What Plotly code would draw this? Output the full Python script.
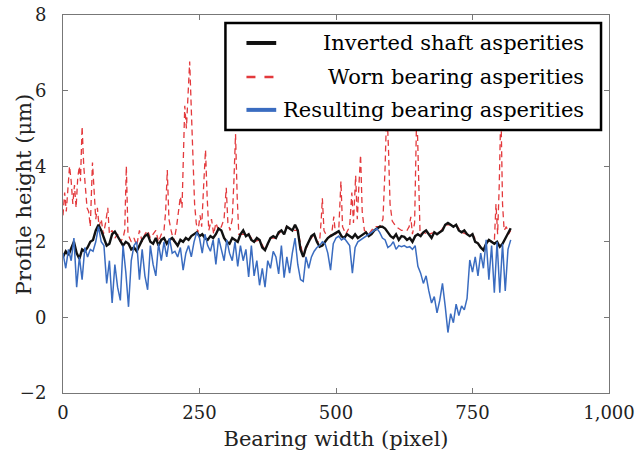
import plotly.graph_objects as go

# ---------------- data ----------------
pixel_step = 5
black_y = [1.6, 1.75, 1.65, 1.85, 2.0, 1.7, 1.55, 1.8, 1.75, 1.85, 2.0, 2.05, 2.3, 2.45, 2.3, 2.1, 1.9, 1.95, 2.2, 2.27,
           2.15, 2.0, 1.9, 2.0, 1.95, 1.8, 1.85, 1.75, 1.9, 2.05, 2.15, 2.2, 2.0, 1.95, 2.1, 1.9, 2.05, 2.1, 1.95, 2.05,
           2.1, 2.0, 1.9, 2.05, 2.0, 2.1, 2.05, 2.15, 2.2, 2.25, 2.15, 2.2, 2.1, 2.05, 2.15, 2.1, 2.2, 2.35, 2.3, 2.1,
           2.0, 1.95, 2.1, 2.05, 2.0, 2.2, 2.3, 2.15, 2.2, 2.05, 2.0, 2.1, 2.05, 1.85, 1.78, 1.95, 2.1, 2.15, 2.1, 2.25,
           2.3, 2.2, 2.4, 2.35, 2.3, 2.45, 2.3, 1.8, 1.6, 1.85, 2.0, 2.15, 2.2, 2.0, 1.87, 1.9, 2.0, 2.1, 2.15, 2.2,
           2.25, 2.28, 2.15, 2.1, 2.2, 2.15, 2.1, 2.2, 2.1, 2.15, 2.2, 2.25, 2.15, 2.2, 2.3, 2.35, 2.4, 2.4, 2.35, 2.25,
           2.15, 2.1, 2.2, 2.05, 2.15, 2.13, 2.05, 2.1, 2.0, 2.15, 2.2, 2.15, 2.25, 2.3, 2.2, 2.1, 2.25, 2.2, 2.25, 2.3,
           2.45, 2.5, 2.45, 2.4, 2.45, 2.3, 2.25, 2.3, 2.2, 2.15, 2.2, 2.0, 1.96, 1.85, 1.78, 1.95, 2.05, 2.0, 1.95, 2.0,
           1.87, 1.95, 2.1, 2.25, 2.36]
blue_y = [1.7, 1.3, 1.8, 1.5, 2.1, 0.8, 1.6, 1.0, 1.85, 1.6, 1.8, 1.75, 2.0, 2.4, 2.0, 1.9, 0.9, 1.5, 0.38, 1.4,
          0.8, 0.45, 1.9, 1.2, 0.28, 1.5, 1.9, 2.0, 1.0, 1.8, 1.1, 0.73, 1.9, 1.4, 1.1, 1.95, 1.5, 2.0, 1.6, 2.1,
          1.7, 1.75, 1.6, 1.85, 1.25, 1.7, 1.9, 1.6, 2.0, 2.25, 2.1, 1.7, 2.2, 1.9, 1.75, 2.05, 1.4, 2.1, 1.8, 1.5,
          2.05, 1.7, 1.5, 2.0, 1.35, 1.9, 1.5, 1.8, 1.07, 1.9, 1.1, 1.5, 0.85, 1.3, 0.8, 1.5, 1.3, 1.75, 1.6, 1.15,
          1.9, 1.05, 1.6, 1.17, 1.7, 2.1, 1.4, 1.0, 0.95, 1.6, 1.3, 1.6, 1.75, 1.85, 1.9, 2.0, 1.95, 1.7, 1.25, 1.95,
          2.1, 2.15, 2.05, 2.1, 2.0, 1.9, 1.17, 1.85, 2.0, 2.05, 2.1, 2.15, 2.2, 2.25, 2.3, 2.35, 2.25, 2.1, 2.05, 1.85,
          1.9, 2.0, 1.8, 1.9, 1.87, 1.9, 1.85, 1.87, 1.8, 1.9, 1.35, 1.17, 0.9, 1.1, 0.7, 0.38, 0.55, 0.12, 0.45, 0.9,
          0.3, -0.4, 0.1, -0.14, 0.35, 0.05, 0.3, 0.2, 0.5, 1.52, 1.2, 1.6, 1.1, 1.7, 1.3, 2.05, 1.0, 1.9, 0.65, 2.0,
          0.65, 1.95, 0.7, 1.8, 2.05]
red_x = [0, 3, 6, 10, 12, 15, 18, 21, 24, 27, 30, 32, 35, 38, 41, 44, 47, 50, 54, 57, 60, 63, 66, 70, 74, 78, 82, 85,
         90, 95, 100, 105, 110, 113, 116, 119, 125, 130, 135, 140, 145, 150, 155, 160, 165, 170, 175, 180, 185, 188,
         191, 194, 198, 203, 208, 212, 215, 218, 221, 223, 226, 229, 232, 235, 238, 241, 244, 247, 251, 254, 258, 261,
         264, 267, 272, 276, 280, 285, 290, 295, 299, 302, 306, 310, 313, 316, 319, 322, 328,
         340, 350, 360, 370, 380, 390, 400, 410, 420, 430, 440, 450, 460, 466, 470, 473, 475, 478, 485, 492, 496, 499,
         505, 509, 512, 518, 525, 529, 532, 536, 539, 542, 545, 548, 552, 560, 570, 580, 586, 590, 593, 596, 599, 603,
         610, 620, 630, 634, 637, 640, 644, 648, 651, 654, 660, 670, 680, 690, 700, 710, 720, 730, 740, 750, 760, 770,
         780, 786, 790, 793, 796, 799, 802, 805, 808, 812, 816, 820]
red_y = [2.7, 3.3, 2.8, 3.5, 4.0, 3.6, 3.0, 3.5, 2.9, 3.7, 4.0, 3.6, 5.05, 4.0, 3.5, 2.9, 2.8, 2.4, 4.1, 3.2, 2.6, 2.9,
         2.4, 2.6, 2.2, 2.5, 2.9, 2.2, 2.3, 2.1, 2.2, 2.0, 2.1, 2.3, 4.0, 2.2, 2.0, 2.1, 1.9, 2.3, 2.0, 2.2, 2.3, 2.1,
         2.2, 2.3, 2.0, 2.2, 2.3, 2.8, 3.9, 2.6, 2.3, 2.0, 2.4, 2.85, 3.2, 2.9, 4.5, 5.6, 5.0, 5.9, 6.77, 5.5, 4.0,
         3.0, 2.5, 2.24, 2.7, 2.4, 3.6, 4.43, 3.2, 2.3, 2.6, 2.2, 2.5, 2.3, 2.4, 2.6, 3.43, 2.5, 2.3, 2.6, 3.6, 4.85,
         3.2, 2.2, 2.2,
         2.2, 2.0, 2.05, 1.78, 2.1, 2.1, 2.3, 2.4, 2.3, 2.3, 1.6, 2.0, 2.2, 2.0, 2.0, 2.6, 3.15, 2.3, 2.1, 2.2, 2.67,
         2.2, 2.3, 3.6, 2.4, 2.2, 2.4, 3.3, 2.5, 3.75, 2.6, 3.5, 4.3, 2.8, 2.3, 2.2, 2.4, 2.4, 2.6, 4.0, 5.6, 4.5, 3.0,
         2.55, 2.4, 2.3, 2.3, 2.4, 2.66, 2.2, 2.5, 5.6, 3.5, 2.2, 2.25, 2.2, 2.25, 2.25, 2.45, 2.45, 2.45, 2.25, 2.2,
         2.2, 1.96, 1.78, 2.05, 2.0, 2.0, 3.0, 2.2, 3.5, 5.6, 3.0, 2.3, 2.4, 2.2, 2.3]
x_ticks = [0, 250, 500, 750, 1000]
x_tick_labels = ["0", "250", "500", "750", "1,000"]
y_ticks = [-2, 0, 2, 4, 6, 8]
series_names = ["Inverted shaft asperities", "Worn bearing asperities", "Resulting bearing asperities"]

grid_x = list(range(0, pixel_step * len(black_y), pixel_step))
assert len(black_y) == len(blue_y) == len(grid_x)
assert len(red_x) == len(red_y)

# ---------------- style ----------------
FONT = "DejaVu Serif"
BLACK = "#111111"
RED = "#e3393c"
BLUE = "#3a6cc0"

fig = go.Figure()
fig.add_trace(go.Scatter(x=red_x, y=red_y, mode="lines", name=series_names[1],
                         line=dict(color=RED, width=1.3, dash="6px,4px"), showlegend=False))
fig.add_trace(go.Scatter(x=grid_x, y=black_y, mode="lines", name=series_names[0],
                         line=dict(color=BLACK, width=2.4), showlegend=False))
fig.add_trace(go.Scatter(x=grid_x, y=blue_y, mode="lines", name=series_names[2],
                         line=dict(color=BLUE, width=1.5), showlegend=False))

# custom legend (text right-aligned like the reference)
fig.add_shape(type="rect", xref="paper", yref="paper", x0=0.2975, x1=0.9854, y0=0.6958, y1=0.9788,
              line=dict(color="black", width=2.5), fillcolor="white", layer="above")
rows = [(0.926, BLACK, "solid"), (0.836, RED, "dash"), (0.749, BLUE, "solid")]
for (yy, col, dash), name in zip(rows, [series_names[0], series_names[1], series_names[2]]):
    fig.add_shape(type="line", xref="paper", yref="paper", x0=0.336, x1=0.3905, y0=yy, y1=yy,
                  line=dict(color=col, width=4 if dash == "solid" else 2.5, dash=dash), layer="above")
    fig.add_annotation(xref="paper", yref="paper", x=0.958, y=yy, text=name, showarrow=False,
                       xanchor="right", yanchor="middle", font=dict(family=FONT, size=21, color="black"))

# y-axis title placed as rotated text
fig.add_annotation(xref="paper", yref="paper", x=-0.071, y=0.524, text="Profile height (μm)", showarrow=False,
                   textangle=-90, xanchor="center", yanchor="middle",
                   font=dict(family=FONT, size=21, color="#222222"))

axis_common = dict(showgrid=False, zeroline=False, showline=True, linecolor="#777777", linewidth=1,
                   mirror="ticks", ticks="inside", ticklen=5, tickcolor="#777777",
                   tickfont=dict(family=FONT, size=18, color="#222222"))
fig.update_xaxes(range=[0, 1000], tickvals=x_ticks, ticktext=x_tick_labels, ticklabeloverflow="allow",
                 title=dict(text="Bearing width (pixel)", font=dict(family=FONT, size=21, color="#222222"), standoff=9),
                 ticklabelstandoff=3, **axis_common)
fig.update_yaxes(range=[-2, 8], tickvals=y_ticks, ticklabeloverflow="allow",
                 ticklabelstandoff=12, **axis_common)
fig.update_layout(width=635, height=462, margin=dict(l=63, r=26, t=15, b=69, autoexpand=False),
                  plot_bgcolor="white", paper_bgcolor="white", font=dict(family=FONT))
fig.write_html("out.html")
